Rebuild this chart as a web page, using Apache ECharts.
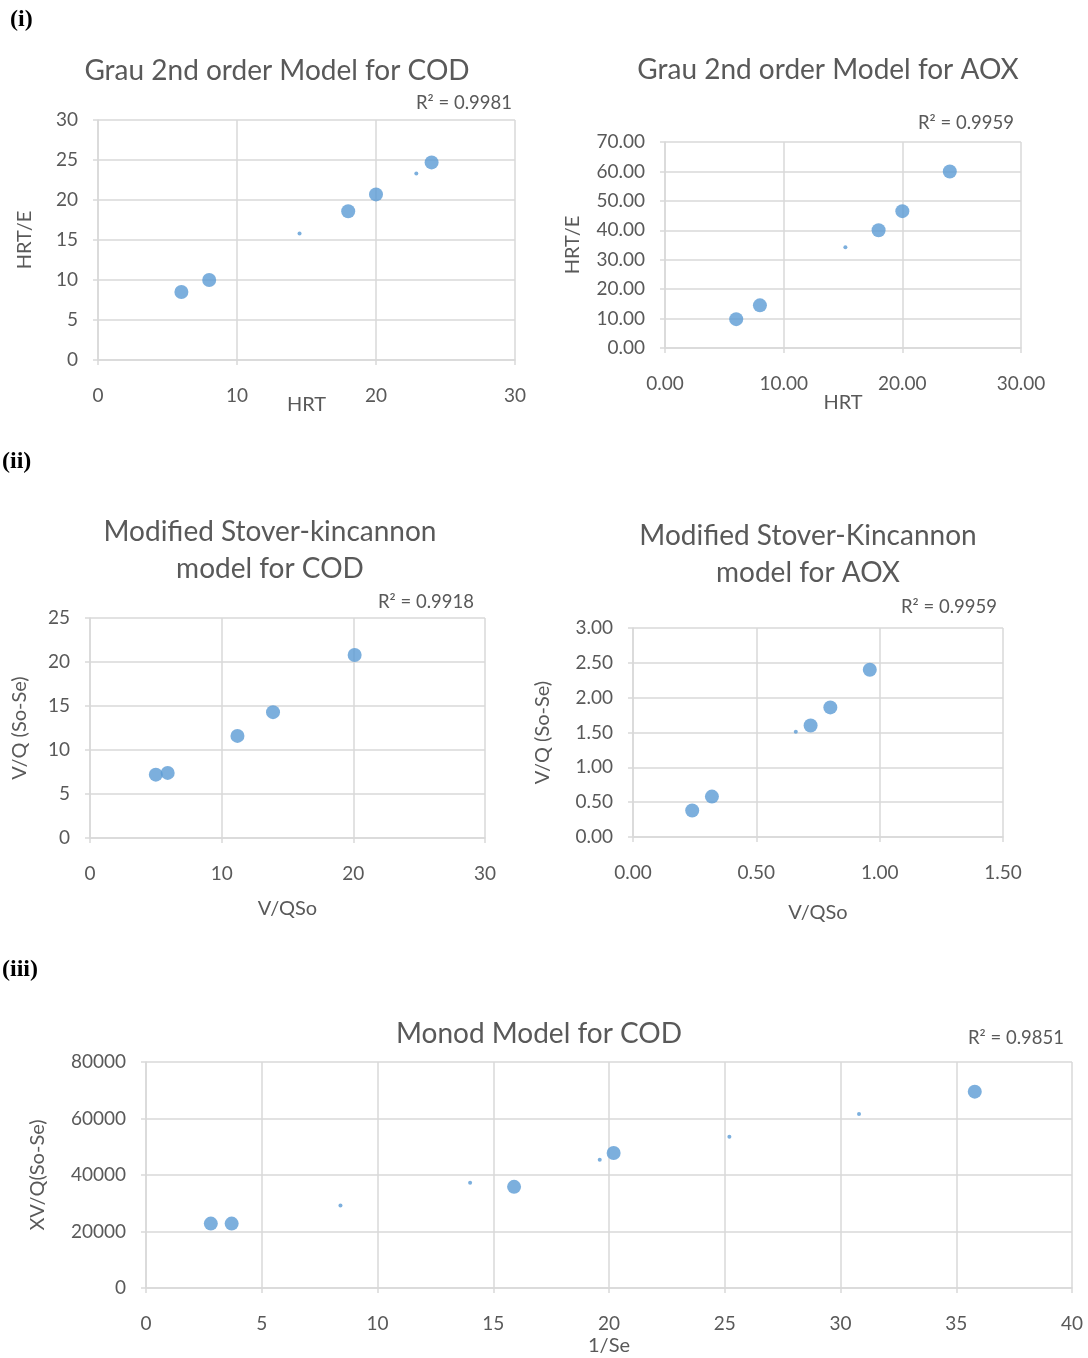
<!DOCTYPE html>
<html>
<head>
<meta charset="utf-8">
<script src="https://cdn.jsdelivr.net/npm/echarts@6/dist/echarts.min.js"></script>
<style>
  html, body { margin: 0; padding: 0; background: #fff; }
  #chart { width: 1088px; height: 1358px; }
</style>
</head>
<body>
<div id="chart"></div>
<script>
// (i) Grau 2nd order, COD
const grauCodHrt = [6, 8, 18, 20, 24];
const grauCodHrtE = [8.5, 10, 18.6, 20.7, 24.7];
const grauCodTrendX = [14.5, 22.9];
const grauCodTrendY = [15.8, 23.3];

// (i) Grau 2nd order, AOX
const grauAoxHrt = [6, 8, 18, 20, 24];
const grauAoxHrtE = [9.8, 14.5, 40, 46.5, 60];
const grauAoxTrendX = [15.2];
const grauAoxTrendY = [34.2];

// (ii) Modified Stover-Kincannon, COD
const stoverCodX = [5, 5.9, 11.2, 13.9, 20.1];
const stoverCodY = [7.2, 7.4, 11.6, 14.3, 20.8];

// (ii) Modified Stover-Kincannon, AOX
const stoverAoxX = [0.24, 0.32, 0.72, 0.80, 0.96];
const stoverAoxY = [0.38, 0.58, 1.60, 1.86, 2.40];
const stoverAoxTrendX = [0.66];
const stoverAoxTrendY = [1.51];

// (iii) Monod, COD
const monodX = [2.8, 3.7, 15.9, 20.2, 35.8];
const monodY = [22800, 22800, 35800, 47800, 69500];
const monodTrendX = [8.4, 14.0, 19.6, 25.2, 30.8];
const monodTrendY = [29200, 37300, 45400, 53500, 61600];

const r2Labels = ['R² = 0.9981', 'R² = 0.9959', 'R² = 0.9918', 'R² = 0.9959', 'R² = 0.9851'];

const FONT = 'Lato';
const TEXT = '#595959';
const GRID = '#d9d9d9';
const BLUE = '#5B9BD5';

const pts = (xs, ys) => xs.map((x, i) => [x, ys[i]]);

function axisBase(idx, min, max, interval, name, gap, dec, margin) {
  return {
    gridIndex: idx, type: 'value', min, max, interval,
    name, nameLocation: 'middle', nameGap: gap, nameMoveOverlap: false,
    nameTextStyle: { color: TEXT, fontFamily: FONT, fontSize: 20 },
    axisLine: { show: true, lineStyle: { color: GRID, width: 1.5 } },
    axisTick: { show: true, length: 5, lineStyle: { color: GRID, width: 1.5 } },
    axisLabel: {
      color: TEXT, fontFamily: FONT, fontSize: 19, margin,
      formatter: v => dec ? v.toFixed(dec) : String(v)
    },
    splitLine: { show: true, lineStyle: { color: GRID, width: 1.5 } }
  };
}
const xAx = (idx, min, max, interval, name, gap, dec) =>
  axisBase(idx, min, max, interval, name, gap, dec, 26);
const yAx = (idx, min, max, interval, name, gap, dec) =>
  axisBase(idx, min, max, interval, name, gap, dec, 20);

function bigDots(idx, data) {
  return {
    type: 'scatter', xAxisIndex: idx, yAxisIndex: idx, data,
    symbolSize: 14, itemStyle: { color: BLUE }, animation: false
  };
}
function trendDots(idx, data) {
  return {
    type: 'scatter', xAxisIndex: idx, yAxisIndex: idx, data,
    symbolSize: 4, itemStyle: { color: BLUE }, animation: false
  };
}

function txt(x, y, text, size, align, extra) {
  return {
    type: 'text', x, y,
    style: Object.assign({
      text, fill: TEXT, fontFamily: FONT, fontSize: size,
      textAlign: align, textVerticalAlign: 'middle'
    }, extra || {})
  };
}

const sectionStyle = { fill: '#000', fontFamily: 'Liberation Serif', fontWeight: 'bold' };

const chart = echarts.init(document.getElementById('chart'));
chart.setOption({
  backgroundColor: '#fff',
  animation: false,
  grid: [
    { left: 98, top: 120, width: 417, height: 240 },
    { left: 665, top: 142, width: 356, height: 206 },
    { left: 90, top: 618, width: 395, height: 220 },
    { left: 633, top: 628, width: 370, height: 209 },
    { left: 146, top: 1062, width: 926, height: 226 }
  ],
  xAxis: [
    xAx(0, 0, 30, 10, 'HRT', 35, 0),
    xAx(1, 0, 30, 10, 'HRT', 45, 2),
    xAx(2, 0, 30, 10, 'V/QSo', 61, 0),
    xAx(3, 0, 1.5, 0.5, 'V/QSo', 66, 2),
    xAx(4, 0, 40, 5, '1/Se', 48, 0)
  ],
  yAxis: [
    yAx(0, 0, 30, 5, 'HRT/E', 63, 0),
    yAx(1, 0, 70, 10, 'HRT/E', 82, 2),
    yAx(2, 0, 25, 5, 'V/Q (So-Se)', 60, 0),
    yAx(3, 0, 3, 0.5, 'V/Q (So-Se)', 80, 2),
    yAx(4, 0, 80000, 20000, 'XV/Q(So-Se)', 98, 0)
  ],
  series: [
    bigDots(0, pts(grauCodHrt, grauCodHrtE)),
    trendDots(0, pts(grauCodTrendX, grauCodTrendY)),
    bigDots(1, pts(grauAoxHrt, grauAoxHrtE)),
    trendDots(1, pts(grauAoxTrendX, grauAoxTrendY)),
    bigDots(2, pts(stoverCodX, stoverCodY)),
    bigDots(3, pts(stoverAoxX, stoverAoxY)),
    trendDots(3, pts(stoverAoxTrendX, stoverAoxTrendY)),
    bigDots(4, pts(monodX, monodY)),
    trendDots(4, pts(monodTrendX, monodTrendY))
  ],
  graphic: [
    txt(10, 20, '(i)', 24, 'left', sectionStyle),
    txt(2, 462, '(ii)', 24, 'left', sectionStyle),
    txt(2, 970, '(iii)', 24, 'left', sectionStyle),
    txt(277, 71, 'Grau 2nd order Model for COD', 28, 'center'),
    txt(828, 70, 'Grau 2nd order Model for AOX', 28, 'center'),
    txt(270, 532, 'Modified Stover-kincannon', 28, 'center'),
    txt(270, 569, 'model for COD', 28, 'center'),
    txt(808, 536, 'Modified Stover-Kincannon', 28, 'center'),
    txt(808, 573, 'model for AOX', 28, 'center'),
    txt(539, 1034, 'Monod Model for COD', 28, 'center'),
    txt(512, 103, r2Labels[0], 18.5, 'right'),
    txt(1014, 123, r2Labels[1], 18.5, 'right'),
    txt(474, 602, r2Labels[2], 18.5, 'right'),
    txt(997, 607, r2Labels[3], 18.5, 'right'),
    txt(1064, 1038, r2Labels[4], 18.5, 'right')
  ]
});
</script>
</body>
</html>
